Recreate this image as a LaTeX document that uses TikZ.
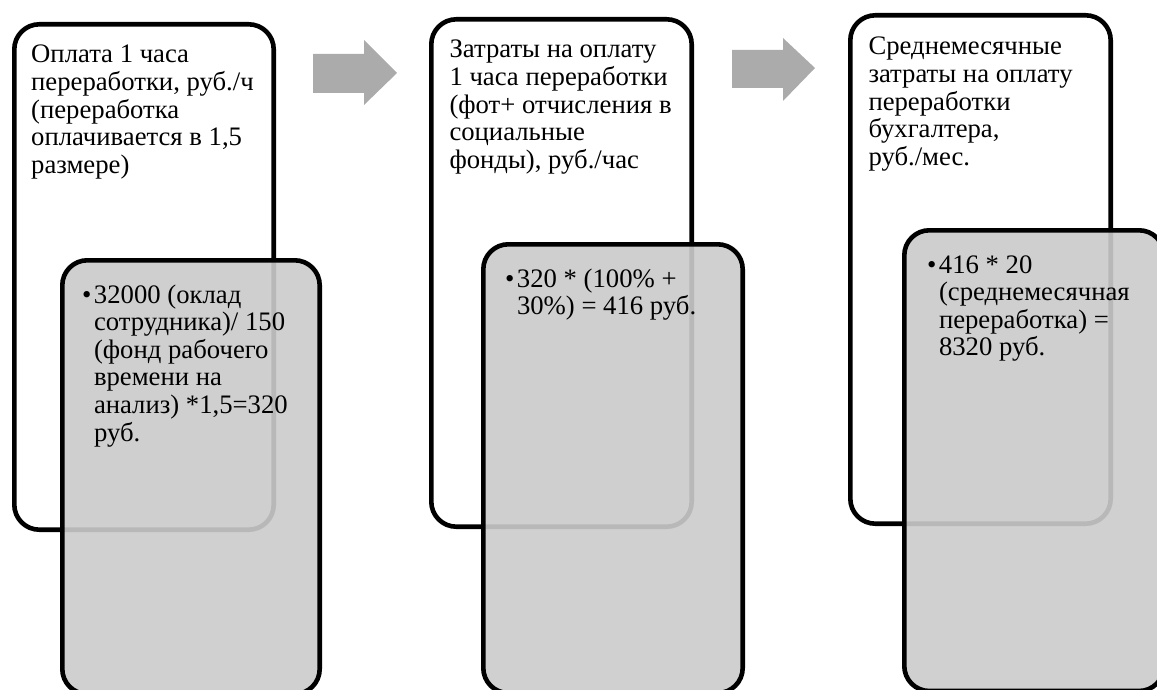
\documentclass[tikz,border=0pt]{standalone}
\usepackage{fontspec}
\setmainfont{Liberation Serif}
\definecolor{boxgray}{HTML}{CBCBCB}
\definecolor{arrowgray}{HTML}{ABABAB}
\tikzset{
  whitebox/.style={draw=black, line width=4.6pt, rounded corners=25pt, fill=white,
    anchor=north west, outer sep=0pt, inner sep=0pt},
  graybox/.style={draw=black, line width=4.6pt, rounded corners=25pt, fill=boxgray,
    fill opacity=0.91, draw opacity=1, anchor=north west, outer sep=0pt, inner sep=0pt},
  txt/.style={anchor=base west, inner sep=0pt, outer sep=0pt,
    font=\fontsize{26.7}{27.6}\selectfont},
  blockarrow/.style={fill=arrowgray, draw=none}
}
\newcommand{\titletext}[1]{\parbox[t]{400pt}{\raggedright #1}}
\newcommand{\bullettext}[1]{\parbox[t]{400pt}{\raggedright\leftskip=12pt\noindent\hspace*{-12pt}\makebox[12pt][l]{•}#1}}
\begin{document}
\begin{tikzpicture}[x=1pt,y=-1pt]
\useasboundingbox (0,0) rectangle (1157,690);
% white boxes
\node[whitebox, minimum width=259.4pt, minimum height=505.4pt] (b1) at (14.3,24.3) {};
\node[whitebox, minimum width=260.4pt, minimum height=507.4pt] (b2) at (431.3,19.3) {};
\node[whitebox, minimum width=260.4pt, minimum height=508.4pt] (b3) at (850.3,15.3) {};
% titles
\node[txt] (t1) at (31.2,63) {\titletext{Оплата 1 часа\\переработки, руб./ч\\(переработка\\оплачивается в 1,5\\размере)}};
\node[txt] (t2) at (449.5,58) {\titletext{Затраты на оплату\\1 часа переработки\\(фот+ отчисления в\\социальные\\фонды), руб./час}};
\node[txt] (t3) at (868.5,55) {\titletext{Среднемесячные\\затраты на оплату\\переработки\\бухгалтера,\\руб./мес.}};
% gray boxes
\node[graybox, minimum width=257.4pt, minimum height=433.7pt] (g1) at (62.3,260.3) {};
\node[graybox, minimum width=259.4pt, minimum height=448.7pt] (g2) at (483.3,244.3) {};
\node[graybox, minimum width=259.7pt, minimum height=460.7pt] (g3) at (904.3,230.3) {};
% gray box texts
\node[txt] (u1) at (82,303) {\bullettext{32000 (оклад\\сотрудника)/ 150\\(фонд рабочего\\времени на\\анализ) *1,5=320\\руб.}};
\node[txt] (u2) at (505,287) {\bullettext{320 * (100\% +\\30\%) = 416 руб.}};
\node[txt] (u3) at (927,273) {\bullettext{416 * 20\\(среднемесячная\\переработка) =\\8320 руб.}};
% block arrows
\fill[blockarrow] (313,54) -- (364,54) -- (364,40) -- (397,73) -- (364,105) -- (364,93) -- (313,93) -- cycle;
\fill[blockarrow] (732,50) -- (783,50) -- (783,38) -- (815,68) -- (783,101) -- (783,88) -- (732,88) -- cycle;
\end{tikzpicture}
\end{document}
